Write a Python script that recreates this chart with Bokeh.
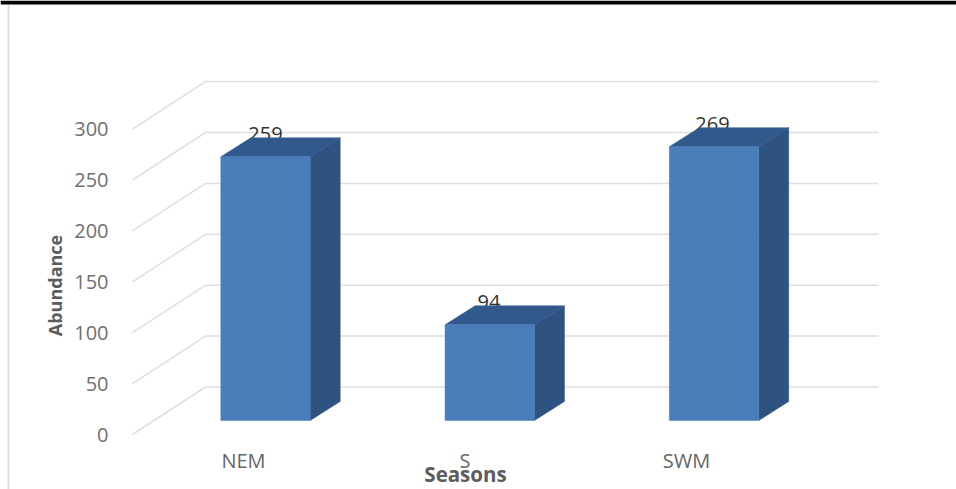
from bokeh.core.properties import value
from bokeh.embed import file_html
from bokeh.models import Range1d
from bokeh.plotting import figure
from bokeh.resources import INLINE
import math

# Chart data
seasons = ["NEM", "S", "SWM"]
abundance = [259, 94, 269]
y_ticks = [0, 50, 100, 150, 200, 250, 300]

# Canvas scales: pixels per season slot and per abundance unit
W, H = 956, 489
SLOT_PX = 224.25
UNIT_PX = 1.018
ZERO_X_PX = 265.0   # centre of the first bar
ZERO_Y_PX = 420.0   # foot of the bars' front faces


def dx(px):
    return px / SLOT_PX


def dy(px):
    return px / UNIT_PX


def px_x(px):
    return dx(px - ZERO_X_PX)


def px_y(px):
    return dy(ZERO_Y_PX - px)


p = figure(
    width=W, height=H, output_backend="svg", toolbar_location=None,
    x_range=Range1d(px_x(0), px_x(W)),
    y_range=Range1d(px_y(H), px_y(0)),
    min_border=0, outline_line_color=None, background_fill_color="white",
    border_fill_color="white",
)
p.xaxis.visible = False
p.yaxis.visible = False
p.grid.visible = False

# Page edge: dark strip along the top and a pale rule down the left
p.quad(left=[px_x(7)], right=[px_x(9)], top=[px_y(4)], bottom=[px_y(H)],
       fill_color="#dedede", line_color=None)
p.quad(left=[px_x(0)], right=[px_x(W)], top=[px_y(0)], bottom=[px_y(4)],
       fill_color="#050505", line_color=None)

# Floor and back wall of the 3-D box: each gridline runs diagonally then flat
wall_left = px_x(132)
wall_back = px_x(205)
wall_right = px_x(878)
front_drop = dy(14)
back_rise = dy(33.5)
grid_xs = [[wall_left, wall_back, wall_right] for _ in y_ticks]
grid_ys = [[t - front_drop, t + back_rise, t + back_rise] for t in y_ticks]
p.multi_line(grid_xs, grid_ys, line_color="#dfdfdf", line_width=1.5)

# Value tick labels sit at the front end of the diagonals
p.text(x=[px_x(108)] * len(y_ticks),
       y=[t - front_drop for t in y_ticks],
       text=[str(t) for t in y_ticks],
       text_font=value("Open Sans"), text_font_size="20px", text_color="#707070",
       text_align="right", text_baseline="middle")

# Data labels go underneath the boxes, whose top faces clip them slightly
xs = list(range(len(seasons)))
p.text(x=[i * 223.5 / SLOT_PX for i in xs],
       y=[v + dy(23) for v in abundance],
       text=[str(v) for v in abundance],
       text_font=value("Open Sans"), text_font_size="20px", text_color="#333333",
       text_align="center", text_baseline="middle")

# Bars as three oblique faces
half = dx(44.7)
depth_x = dx(30)
depth_y = dy(19)
FRONT, TOP, SIDE = "#4a7ebb", "#32598c", "#2f5380"

p.patches(
    [[i + half, i + half + depth_x, i + half + depth_x, i + half] for i in xs],
    [[0, depth_y, v + depth_y, v] for v in abundance],
    fill_color=SIDE, line_color=SIDE, line_width=0.5)
p.patches(
    [[i - half, i - half + depth_x, i + half + depth_x, i + half] for i in xs],
    [[v, v + depth_y, v + depth_y, v] for v in abundance],
    fill_color=TOP, line_color=TOP, line_width=0.5)
p.vbar(x=xs, width=2 * half, bottom=0, top=abundance,
       fill_color=FRONT, line_color=FRONT, line_width=0.5)

# Category labels run on a slightly tighter pitch than the bars
p.text(x=[px_x(243 + i * 221.5) for i in xs],
       y=[dy(-39.5)] * len(xs),
       text=seasons,
       text_font=value("Open Sans"), text_font_size="20px", text_color="#666666",
       text_align="center", text_baseline="middle")

# Axis titles
title_font = value("Open Sans")
p.text(x=[px_x(465)], y=[px_y(473)], text=["Seasons"],
       text_font=title_font, text_font_style="bold", text_font_size="20.5px",
       text_color="#5c5c5c", text_align="center", text_baseline="middle")
p.text(x=[px_x(54.5)], y=[px_y(285)], text=["Abundance"],
       text_font=title_font, text_font_style="bold", text_font_size="18px",
       text_color="#5c5c5c", text_align="center", text_baseline="middle",
       angle=math.pi / 2)

open("out.html", "w").write(file_html(p, INLINE))
